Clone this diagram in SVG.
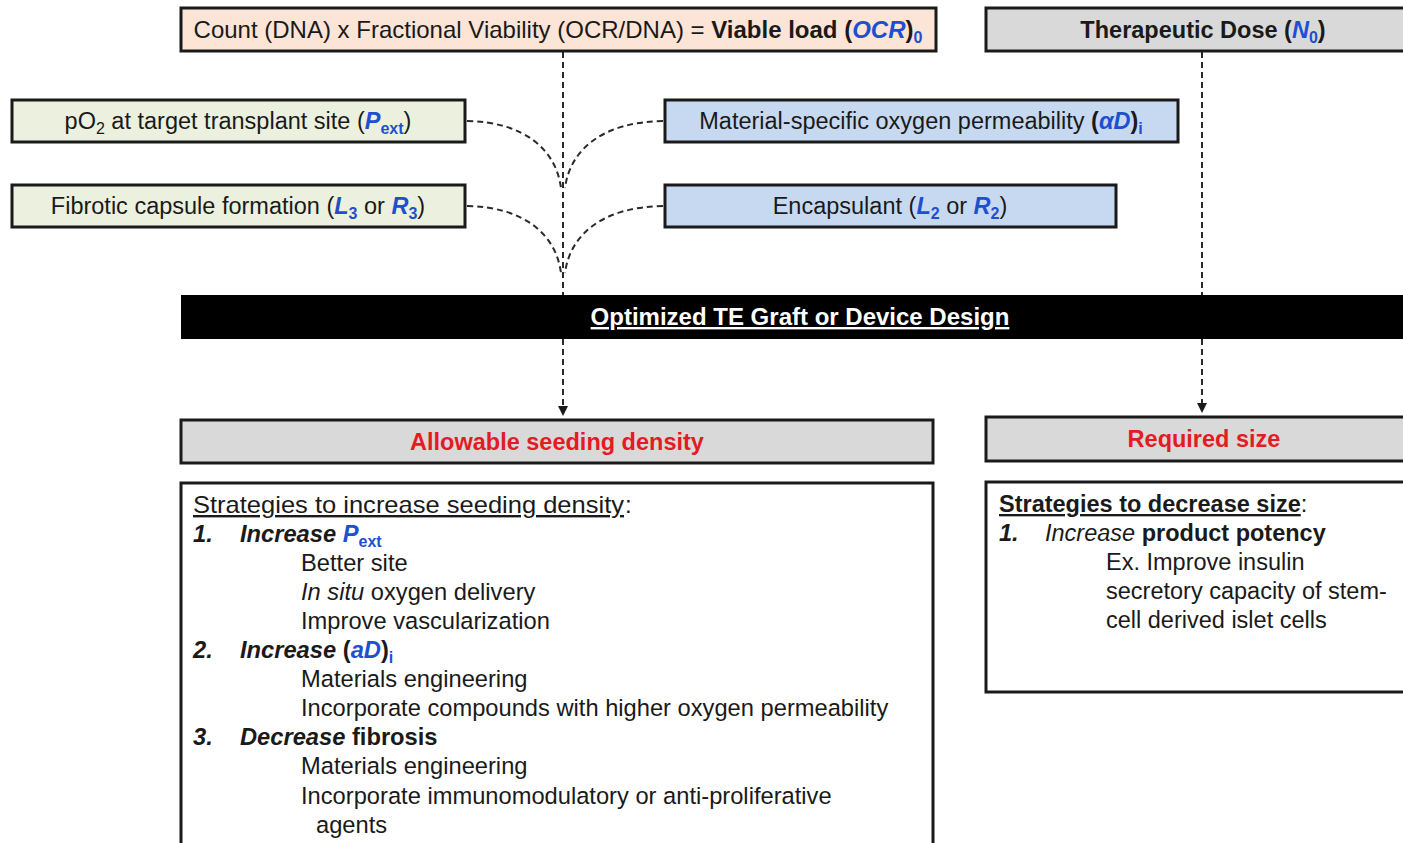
<svg xmlns="http://www.w3.org/2000/svg" width="1403" height="843" viewBox="0 0 1403 843">
<defs>
<style>
text{font-family:"Liberation Sans",Arial,sans-serif;font-size:23.5px;fill:#1a1a1a}
.big{font-size:24px}
.body{font-size:23.7px}
.box{stroke:#1a1a1a;stroke-width:3}
.peach{fill:#fce4d6}
.grey{fill:#d9d9d9}
.green{fill:#ebf1de}
.blue{fill:#c6d9f1}
.white{fill:#ffffff}
.b{font-weight:bold}
.i{font-style:italic}
.v{fill:#1f4fcf}
.red{fill:#e31b23;font-weight:bold}
.sub{font-size:16px}
.u{text-decoration:underline}
.dash{fill:none;stroke:#2a2a2a;stroke-width:2;stroke-dasharray:6 4}
</style>
</defs>
<rect width="1403" height="843" fill="#ffffff"/>

<g id="connectors">
<path class="dash" d="M563,52 V295"/>
<path class="dash" d="M563,339 V406"/>
<path d="M558,406 L568,406 L563,416 Z" fill="#1a1a1a"/>
<path class="dash" d="M1202,52 V295"/>
<path class="dash" d="M1202,339 V403"/>
<path d="M1197,403 L1207,403 L1202,413 Z" fill="#1a1a1a"/>
<path class="dash" d="M467,121 C525,122 556,150 561,188"/>
<path class="dash" d="M663,121 C602,122 570,150 565,188"/>
<path class="dash" d="M467,206 C525,207 556,235 561,273"/>
<path class="dash" d="M663,206 C602,207 570,235 565,273"/>
</g>

<g id="viable-load">
<rect class="box peach" x="181" y="8" width="755" height="43"/>
<text x="558" y="38" text-anchor="middle" class="big">Count (DNA) x Fractional Viability (OCR/DNA) = <tspan class="b">Viable load (</tspan><tspan class="b i v">OCR</tspan><tspan class="b">)</tspan><tspan class="b v sub" dy="5">0</tspan></text>
</g>

<g id="therapeutic-dose">
<rect class="box grey" x="986" y="8" width="430" height="43"/>
<text x="1203" y="38" text-anchor="middle" class="b">Therapeutic Dose (<tspan class="i v">N</tspan><tspan class="v sub" dy="5">0</tspan><tspan dy="-5">)</tspan></text>
</g>

<g id="pext">
<rect class="box green" x="12" y="100" width="453" height="42"/>
<text x="238" y="129" text-anchor="middle">pO<tspan class="sub" dy="5">2</tspan><tspan dy="-5"> at target transplant site (</tspan><tspan class="b i v">P</tspan><tspan class="b v sub" dy="5">ext</tspan><tspan dy="-5">)</tspan></text>
</g>

<g id="fibrotic">
<rect class="box green" x="12" y="185" width="453" height="42"/>
<text x="238" y="214" text-anchor="middle">Fibrotic capsule formation (<tspan class="b i v">L</tspan><tspan class="b v sub" dy="5">3</tspan><tspan dy="-5"> or </tspan><tspan class="b i v">R</tspan><tspan class="b v sub" dy="5">3</tspan><tspan dy="-5">)</tspan></text>
</g>

<g id="permeability">
<rect class="box blue" x="665" y="100" width="513" height="42"/>
<text x="921" y="129" text-anchor="middle">Material-specific oxygen permeability <tspan class="b">(</tspan><tspan class="b i v">αD</tspan><tspan class="b">)</tspan><tspan class="b v sub" dy="5">i</tspan></text>
</g>

<g id="encapsulant">
<rect class="box blue" x="665" y="185" width="451" height="42"/>
<text x="890" y="214" text-anchor="middle">Encapsulant (<tspan class="b i v">L</tspan><tspan class="b v sub" dy="5">2</tspan><tspan dy="-5"> or </tspan><tspan class="b i v">R</tspan><tspan class="b v sub" dy="5">2</tspan><tspan dy="-5">)</tspan></text>
</g>

<g id="design">
<rect x="181" y="295" width="1230" height="44" fill="#000000"/>
<text x="800" y="325" text-anchor="middle" class="b u big" style="fill:#ffffff">Optimized TE Graft or Device Design</text>
</g>

<g id="seeding-density">
<rect class="box grey" x="181" y="420" width="752" height="43"/>
<text x="557" y="450" text-anchor="middle" class="red">Allowable seeding density</text>
</g>

<g id="required-size">
<rect class="box grey" x="986" y="417" width="430" height="44"/>
<text x="1204" y="447" text-anchor="middle" class="red">Required size</text>
</g>

<g id="strategies-density">
<rect class="box white" x="181" y="483" width="752" height="380"/>
<text x="193" y="513" class="big u" textLength="431" lengthAdjust="spacingAndGlyphs">Strategies to increase seeding density</text>
<text x="625" y="513" class="big">:</text>
<text x="193" y="542" class="b i body">1.</text>
<text x="240" y="542" class="b body"><tspan class="i">Increase </tspan><tspan class="i v">P</tspan><tspan class="v sub" dy="5">ext</tspan></text>
<text x="301" y="571" class="body">Better site</text>
<text x="301" y="600" class="body"><tspan class="i">In situ</tspan> oxygen delivery</text>
<text x="301" y="629" class="body">Improve vascularization</text>
<text x="193" y="658" class="b i body">2.</text>
<text x="240" y="658" class="b body"><tspan class="i">Increase </tspan>(<tspan class="i v">aD</tspan>)<tspan class="v sub" dy="5">i</tspan></text>
<text x="301" y="687" class="body">Materials engineering</text>
<text x="301" y="716" class="body">Incorporate compounds with higher oxygen permeability</text>
<text x="193" y="745" class="b i body">3.</text>
<text x="240" y="745" class="b body"><tspan class="i">Decrease</tspan> fibrosis</text>
<text x="301" y="774" class="body">Materials engineering</text>
<text x="301" y="804" class="body">Incorporate immunomodulatory or anti-proliferative</text>
<text x="316" y="833" class="body">agents</text>
</g>

<g id="strategies-size">
<rect class="box white" x="986" y="482" width="430" height="210"/>
<text x="999" y="512"><tspan class="b u">Strategies to decrease size</tspan>:</text>
<text x="999" y="541" class="b i">1.</text>
<text x="1045" y="541"><tspan class="i">Increase</tspan><tspan class="b"> product potency</tspan></text>
<text x="1106" y="570">Ex. Improve insulin</text>
<text x="1106" y="599">secretory capacity of stem-</text>
<text x="1106" y="628">cell derived islet cells</text>
</g>
</svg>
